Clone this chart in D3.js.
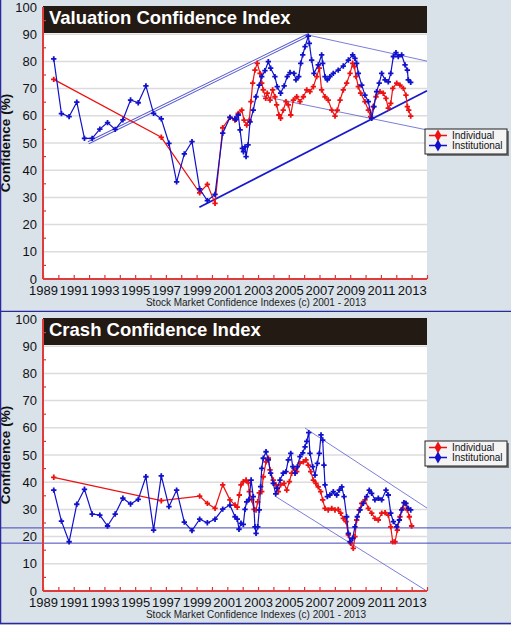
<!DOCTYPE html>
<html>
<head>
<meta charset="utf-8">
<script src="https://cdn.jsdelivr.net/npm/d3@7"></script>
<style>
  body { margin: 0; background: #d9e1e9; }
  svg { display: block; font-family: "Liberation Sans", Arial, sans-serif; }
</style>
</head>
<body>
<div id="chart"></div>
<script>
// chart years (as placed on the picture's axis) and confidence values in %
const years = d3.range(1989, 2015);
const yearLabels = d3.range(1989, 2014, 2);
const valueTicks = d3.range(0, 101, 10);
const seriesNames = ['Individual', 'Institutional'];

const valuationIndividual = [
  [1989.7,73.4],[1996.7,52.1],[1999.2,31.7],[1999.7,34.8],[2000.2,27.8],[2000.7,55.6],
  [2001.17,59.4],[2001.50,58.4],[2001.71,60.9],[2001.94,62.1],[2002.09,58.4],[2002.26,56.6],
  [2002.43,58.4],[2002.54,65.2],[2002.65,72.0],[2002.80,76.8],[2002.95,79.3],[2003.13,75.6],
  [2003.24,72.0],[2003.34,69.5],[2003.50,66.4],[2003.60,68.3],[2003.78,65.8],[2003.95,69.5],
  [2004.10,67.0],[2004.21,64.0],[2004.36,60.3],[2004.47,59.1],[2004.64,62.1],[2004.82,65.2],
  [2004.97,64.0],[2005.13,60.3],[2005.30,65.8],[2005.52,67.0],[2005.73,65.2],[2005.95,67.0],
  [2006.17,69.5],[2006.38,68.9],[2006.60,70.7],[2006.82,74.4],[2006.99,77.5],[2007.14,69.5],
  [2007.36,67.0],[2007.57,65.8],[2007.80,62.1],[2008.01,59.9],[2008.16,62.1],[2008.34,65.8],
  [2008.55,69.5],[2008.77,72.0],[2008.99,75.6],[2009.16,79.3],[2009.27,78.1],[2009.38,74.4],
  [2009.53,70.7],[2009.68,68.3],[2009.96,65.2],[2010.18,62.1],[2010.33,59.7],[2010.50,63.4],
  [2010.68,67.0],[2010.94,68.9],[2011.15,68.3],[2011.33,66.4],[2011.48,62.8],[2011.64,64.6],
  [2011.77,70.1],[2012.03,72.0],[2012.24,71.3],[2012.46,70.1],[2012.63,67.6],[2012.72,63.4],
  [2012.81,62.1],[2012.94,59.9]
];

const valuationInstitutional = [
  [1989.7,80.9],[1990.2,60.8],[1990.7,59.7],[1991.2,65.0],[1991.7,51.7],[1992.2,51.7],
  [1992.7,55.1],[1993.2,57.5],[1993.7,55.0],[1994.2,58.5],[1994.7,65.8],[1995.2,64.8],
  [1995.7,71.0],[1996.2,60.9],[1996.7,58.9],[1997.2,49.9],[1997.7,35.7],[1998.2,46.0],
  [1998.7,50.5],[1999.2,33.1],[1999.7,28.8],[2000.2,31.1],[2000.7,53.6],
  [2001.17,59.4],[2001.50,58.9],[2001.57,58.7],[2001.71,60.3],[2001.83,54.8],[2001.98,48.0],
  [2002.05,46.8],[2002.15,48.6],[2002.22,45.0],[2002.35,49.3],[2002.48,57.8],[2002.69,62.1],
  [2002.87,67.0],[2003.08,71.3],[2003.24,74.4],[2003.45,76.6],[2003.67,79.9],[2003.82,77.5],
  [2004.10,74.4],[2004.25,70.7],[2004.47,68.3],[2004.70,71.0],[2004.90,74.4],[2005.08,75.9],
  [2005.34,75.6],[2005.47,73.2],[2005.65,74.4],[2005.78,79.3],[2005.91,82.4],[2006.06,85.4],
  [2006.27,89.3],[2006.34,86.6],[2006.49,80.5],[2006.64,75.6],[2006.92,78.7],[2007.14,82.4],
  [2007.21,79.3],[2007.36,74.4],[2007.51,73.2],[2007.68,74.4],[2007.90,75.6],[2008.22,76.8],
  [2008.55,78.3],[2008.88,80.5],[2009.16,82.4],[2009.31,81.1],[2009.42,79.3],[2009.53,75.6],
  [2009.75,71.3],[2009.96,67.6],[2010.18,65.2],[2010.40,59.1],[2010.55,63.4],[2010.72,68.9],
  [2010.89,72.0],[2011.05,75.6],[2011.27,73.2],[2011.48,72.5],[2011.64,75.6],[2011.81,81.8],
  [2011.98,83.2],[2012.13,81.8],[2012.35,82.4],[2012.57,78.7],[2012.72,76.8],[2012.78,73.2],
  [2012.94,72.3]
];

const crashIndividual = [
  [1989.7,41.8],[1996.7,33.2],[1999.2,34.9],[1999.7,32.2],[2000.2,30.4],[2000.7,39.0],
  [2001.17,33.5],[2001.50,31.6],[2001.65,30.8],[2001.78,35.3],[2001.89,39.0],[2002.04,40.2],
  [2002.22,40.8],[2002.37,39.8],[2002.43,36.5],[2002.59,33.5],[2002.74,30.0],[2002.87,29.8],
  [2002.98,32.8],[2003.08,36.1],[2003.24,36.5],[2003.34,42.0],[2003.52,47.5],[2003.67,48.8],
  [2003.78,44.5],[2003.99,40.8],[2004.17,39.0],[2004.32,36.5],[2004.47,39.0],[2004.69,39.6],
  [2004.87,37.1],[2005.04,40.2],[2005.19,43.3],[2005.34,45.1],[2005.52,43.9],[2005.73,47.0],
  [2005.95,47.5],[2006.12,48.2],[2006.27,46.3],[2006.43,43.9],[2006.60,40.8],[2006.77,39.6],
  [2006.92,38.3],[2007.08,36.5],[2007.21,33.5],[2007.36,30.4],[2007.57,29.8],[2007.80,30.4],
  [2008.01,29.8],[2008.22,30.0],[2008.38,28.6],[2008.55,26.7],[2008.73,25.5],[2008.88,20.6],
  [2009.03,17.5],[2009.20,15.7],[2009.31,20.0],[2009.42,26.1],[2009.59,29.8],[2009.75,32.2],
  [2009.96,33.5],[2010.18,30.4],[2010.40,28.6],[2010.61,26.7],[2010.83,26.1],[2011.05,28.6],
  [2011.27,28.8],[2011.48,27.9],[2011.64,23.6],[2011.77,18.1],[2011.92,18.1],[2012.07,22.4],
  [2012.24,27.3],[2012.42,30.4],[2012.57,32.2],[2012.72,29.8],[2012.85,27.3],[2013.00,23.9]
];

const crashInstitutional = [
  [1989.7,37.1],[1990.2,25.7],[1990.7,18.1],[1991.2,31.9],[1991.7,37.4],[1992.2,28.3],
  [1992.7,27.9],[1993.2,23.9],[1993.7,28.3],[1994.2,34.1],[1994.7,32.0],[1995.2,33.7],
  [1995.7,42.0],[1996.2,22.4],[1996.7,42.3],[1997.2,31.0],[1997.7,37.1],[1998.2,25.3],
  [1998.7,22.2],[1999.2,26.4],[1999.7,25.1],[2000.2,26.4],[2000.7,30.1],
  [2001.17,31.6],[2001.50,27.3],[2001.65,26.4],[2001.76,22.7],[2001.89,24.9],[2002.04,24.5],
  [2002.15,30.0],[2002.26,32.8],[2002.41,33.7],[2002.55,40.8],[2002.69,34.7],[2002.80,23.6],
  [2002.87,21.2],[2002.98,23.6],[2003.08,29.8],[2003.17,38.4],[2003.24,45.1],[2003.34,48.8],
  [2003.52,51.2],[2003.67,48.2],[2003.82,43.3],[2003.99,39.6],[2004.15,35.7],[2004.25,37.8],
  [2004.43,40.8],[2004.64,43.3],[2004.82,43.9],[2004.97,48.2],[2005.13,50.6],[2005.26,45.7],
  [2005.41,43.3],[2005.56,45.7],[2005.73,49.4],[2005.91,50.8],[2006.06,53.0],[2006.17,55.0],
  [2006.30,58.2],[2006.38,50.6],[2006.56,45.7],[2006.71,42.6],[2006.86,46.9],[2006.99,50.6],
  [2007.10,57.4],[2007.21,55.5],[2007.29,46.3],[2007.36,39.0],[2007.51,34.7],[2007.68,35.3],
  [2007.90,36.5],[2008.12,35.3],[2008.29,37.1],[2008.45,38.3],[2008.60,34.7],[2008.77,27.3],
  [2008.88,21.2],[2008.99,18.1],[2009.16,19.4],[2009.31,23.6],[2009.46,27.3],[2009.64,29.8],
  [2009.85,32.2],[2010.07,34.7],[2010.24,37.1],[2010.40,35.9],[2010.61,33.5],[2010.83,34.1],
  [2011.05,33.5],[2011.33,37.1],[2011.48,35.3],[2011.64,28.6],[2011.81,25.5],[2012.03,23.6],
  [2012.20,26.1],[2012.35,29.8],[2012.50,32.5],[2012.63,32.2],[2012.78,30.4],[2012.94,29.8]
];

// trend lines drawn on the charts, [year, value] end points
const valuationChannelUp = [[1991.95,50.1],[2006.25,89.7]];
const valuationTopLine = [[2006.25,89.7],[2014,80.1]];
const valuationLowLine = [[2003.24,67.3],[2014,54.8]];
const valuationSupport = [[1999.18,26.4],[2014,69.2]];
const crashTopLine = [[2006.06,59.9],[2014,30.5]];
const crashLowLine = [[2004.10,34.9],[2013.9,0.3]];
const crashLevels = [23.2, 17.6];

const width = 511, panelH = 312;
const red = '#ee1111', blue = '#1111cc';

const svg = d3.select('#chart').append('svg')
  .attr('width', width).attr('height', 625);

const x = d3.scaleLinear().domain([1989, 2014]).range([43, 427]);
const y = d3.scaleLinear().domain([0, 100]).range([279, 7]);

const line = d3.line().x(d => x(d[0])).y(d => y(d[1]));
const cross = d3.symbol().type(d3.symbolCross).size(16);

function drawPanel(top, title, indiv, inst, extras) {
  var g = svg.append('g').attr('transform', 'translate(0,' + top + ')');

  g.append('rect').attr('width', width).attr('height', panelH).attr('fill', '#d9e1e9');

  // plot area
  g.append('rect')
    .attr('x', x(1989)).attr('y', y(100))
    .attr('width', x(2014) - x(1989)).attr('height', y(0) - y(100))
    .attr('fill', '#fff');

  g.append('g').selectAll('line').data(valueTicks.slice(1, -1)).join('line')
    .attr('x1', x(1989)).attr('x2', x(2014))
    .attr('y1', d => y(d)).attr('y2', d => y(d))
    .attr('stroke', '#dcdcdc').attr('stroke-width', 1.5);

  extras(g);

  [[indiv, red], [inst, blue]].forEach(function(s) {
    g.append('path').datum(s[0])
      .attr('d', line).attr('fill', 'none')
      .attr('stroke', s[1]).attr('stroke-width', 1.2);
    g.append('g').selectAll('path').data(s[0]).join('path')
      .attr('transform', d => 'translate(' + x(d[0]) + ',' + y(d[1]) + ')')
      .attr('d', cross).attr('fill', s[1]);
  });

  // title bar
  g.append('rect')
    .attr('x', x(1989)).attr('y', 6)
    .attr('width', x(2014) - x(1989)).attr('height', 27)
    .attr('fill', '#241a14');
  g.append('text').attr('x', 49).attr('y', 24)
    .attr('fill', '#fff').attr('font-weight', 'bold').attr('font-size', 18.5)
    .text(title);

  // axes
  var yAxis = g.append('g').attr('transform', 'translate(' + x(1989) + ',0)')
    .call(d3.axisLeft(y).tickValues(valueTicks).tickSize(0).tickPadding(6));
  yAxis.select('.domain').remove();
  yAxis.selectAll('text').attr('font-size', 13).attr('fill', '#111')
    .attr('font-family', '"Liberation Sans", Arial, sans-serif');

  g.append('g').selectAll('line').data(d3.range(5, 100, 10)).join('line')
    .attr('x1', x(1989)).attr('x2', x(1989) + 3)
    .attr('y1', d => y(d)).attr('y2', d => y(d))
    .attr('stroke', '#dd3333').attr('stroke-width', 1.2);

  var xAxis = g.append('g').attr('transform', 'translate(0,' + y(0) + ')')
    .call(d3.axisBottom(x).tickValues(years).tickSize(-4).tickPadding(7)
      .tickFormat(d => yearLabels.includes(d) ? d : ''));
  xAxis.select('.domain').remove();
  xAxis.selectAll('line').attr('stroke', '#dd3333').attr('stroke-width', 1.2);
  xAxis.selectAll('text').attr('font-size', 13).attr('fill', '#111')
    .attr('font-family', '"Liberation Sans", Arial, sans-serif');

  g.append('line').attr('x1', x(1989)).attr('x2', x(1989))
    .attr('y1', y(100)).attr('y2', y(0))
    .attr('stroke', '#e03a3a').attr('stroke-width', 2);
  g.append('line').attr('x1', x(1989)).attr('x2', x(2014))
    .attr('y1', y(0)).attr('y2', y(0))
    .attr('stroke', '#e03a3a').attr('stroke-width', 2);

  g.append('text')
    .attr('transform', 'translate(10,143) rotate(-90)')
    .attr('text-anchor', 'middle').attr('font-weight', 'bold').attr('font-size', 13.5)
    .attr('fill', '#111').text('Confidence (%)');

  g.append('text').attr('x', 256).attr('y', 306)
    .attr('text-anchor', 'middle').attr('font-size', 10).attr('fill', '#222')
    .text('Stock Market Confidence Indexes (c) 2001 - 2013');

  // legend
  var lg = g.append('g').attr('transform', 'translate(425,129)');
  lg.append('rect').attr('x', 2).attr('y', 2).attr('width', 82).attr('height', 25).attr('fill', '#777');
  lg.append('rect').attr('width', 82).attr('height', 25)
    .attr('fill', '#f4f4f4').attr('stroke', '#222').attr('stroke-width', 1);
  seriesNames.forEach(function(name, i) {
    var c = i === 0 ? red : blue, ly = 6.5 + i * 10;
    lg.append('line').attr('x1', 4).attr('x2', 22).attr('y1', ly).attr('y2', ly)
      .attr('stroke', c).attr('stroke-width', 1.5);
    lg.append('path').attr('transform', 'translate(13,' + ly + ')')
      .attr('d', d3.symbol().type(d3.symbolDiamond).size(40)).attr('fill', c);
    lg.append('text').attr('x', 27).attr('y', ly + 3.5)
      .attr('font-size', 10).attr('fill', '#111').text(name);
  });

  // panel border
  g.append('line').attr('x1', 0.5).attr('x2', 0.5).attr('y1', 0).attr('y2', panelH)
    .attr('stroke', '#2a2aa0').attr('stroke-width', 1.5);
  g.append('line').attr('x1', 0).attr('x2', width).attr('y1', panelH - 0.5).attr('y2', panelH - 0.5)
    .attr('stroke', '#2a2aa0').attr('stroke-width', 1.5);
  return g;
}

function trend(g, pts, color, w) {
  g.append('path').datum(pts).attr('d', line).attr('fill', 'none')
    .attr('stroke', color).attr('stroke-width', w);
}

drawPanel(0, 'Valuation Confidence Index', valuationIndividual, valuationInstitutional, function(g) {
  trend(g, valuationChannelUp, '#5a5ad0', 3.2);
  trend(g, valuationChannelUp, '#ffffff', 1.2);
  trend(g, valuationTopLine, '#5a5ad0', 0.8);
  trend(g, valuationLowLine, '#5a5ad0', 0.8);
  trend(g, valuationSupport, '#1a1acc', 1.8);
});

drawPanel(panelH, 'Crash Confidence Index', crashIndividual, crashInstitutional, function(g) {
  trend(g, crashTopLine, '#5a5ad0', 0.8);
  trend(g, crashLowLine, '#5a5ad0', 0.8);
  g.append('g').selectAll('line').data(crashLevels).join('line')
    .attr('x1', 0).attr('x2', width)
    .attr('y1', d => y(d)).attr('y2', d => y(d))
    .attr('stroke', '#4444bb').attr('stroke-width', 1);
});
</script>
</body>
</html>
